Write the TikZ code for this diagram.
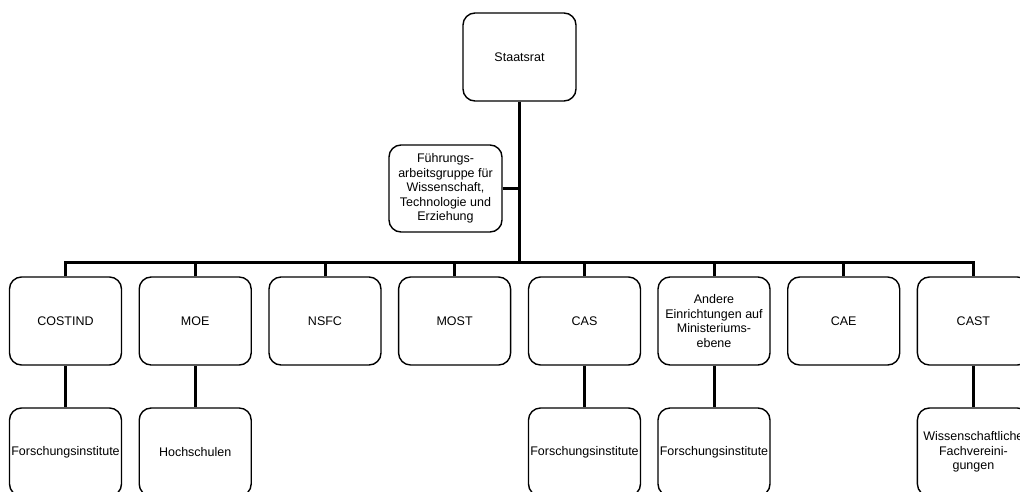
\documentclass[tikz,border=0pt]{standalone}
\usepackage{fontspec}
\setmainfont{Liberation Sans}
\begin{document}
\begin{tikzpicture}[x=1pt,y=-1pt,
  box/.style={draw=black, fill=white, line width=1.4pt, rounded corners=12pt,
    minimum width=112pt, minimum height=88pt, inner sep=0pt, align=center,
    font=\fontsize{12.5}{14.5}\selectfont},
  conn/.style={draw=black, line width=3pt, line join=miter}]
\useasboundingbox (0,0) rectangle (1020,491);
\fill[white] (0,0) rectangle (1020,491);
\clip (0,0) rectangle (1020,491);

% top
\node[box, minimum width=113pt] (staat) at (519.5,57) {Staatsrat};
\node[box, minimum width=113pt, minimum height=87pt] (fuehr) at (445.5,188.5)
  {Führungs-\\arbeitsgruppe für\\Wissenschaft,\\Technologie und\\Erziehung};

% level 2
\node[box] (costind) at (65.5,321) {COSTIND};
\node[box] (moe)     at (195.2,321) {MOE};
\node[box] (nsfc)    at (325,321) {NSFC};
\node[box] (most)    at (454.6,321) {MOST};
\node[box] (cas)     at (584.5,321) {CAS};
\node[box] (andere)  at (714,321) {Andere\\Einrichtungen auf\\Ministeriums-\\ebene};
\node[box] (cae)     at (843.7,321) {CAE};
\node[box] (cast)    at (973.4,321) {CAST};

% level 3
\node[box] (fi1)  at (65.5,452) {Forschungsinstitute};
\node[box] (hoch) at (195.2,452) {Hochschulen};
\node[box] (fi2)  at (584.5,452) {Forschungsinstitute};
\node[box] (fi3)  at (714,452) {Forschungsinstitute};
\node[box] (wiss) at (973.4,452) {Wissenschaftliche\\Fachvereini-\\gungen};

% connectors
\coordinate (bus) at (0,262);
\draw[conn] (staat.south) -- (staat.south |- bus);
\draw[conn] (fuehr.east) -- (fuehr.east -| staat.south);
\draw[conn] (costind.north) -- (costind.north |- bus) -- (cast.north |- bus) -- (cast.north);
\foreach \n in {moe,nsfc,most,cas,andere,cae}
  \draw[conn] (\n.north) -- (\n.north |- bus);
\draw[conn] (costind.south) -- (fi1.north);
\draw[conn] (moe.south) -- (hoch.north);
\draw[conn] (cas.south) -- (fi2.north);
\draw[conn] (andere.south) -- (fi3.north);
\draw[conn] (cast.south) -- (wiss.north);
\end{tikzpicture}
\end{document}
